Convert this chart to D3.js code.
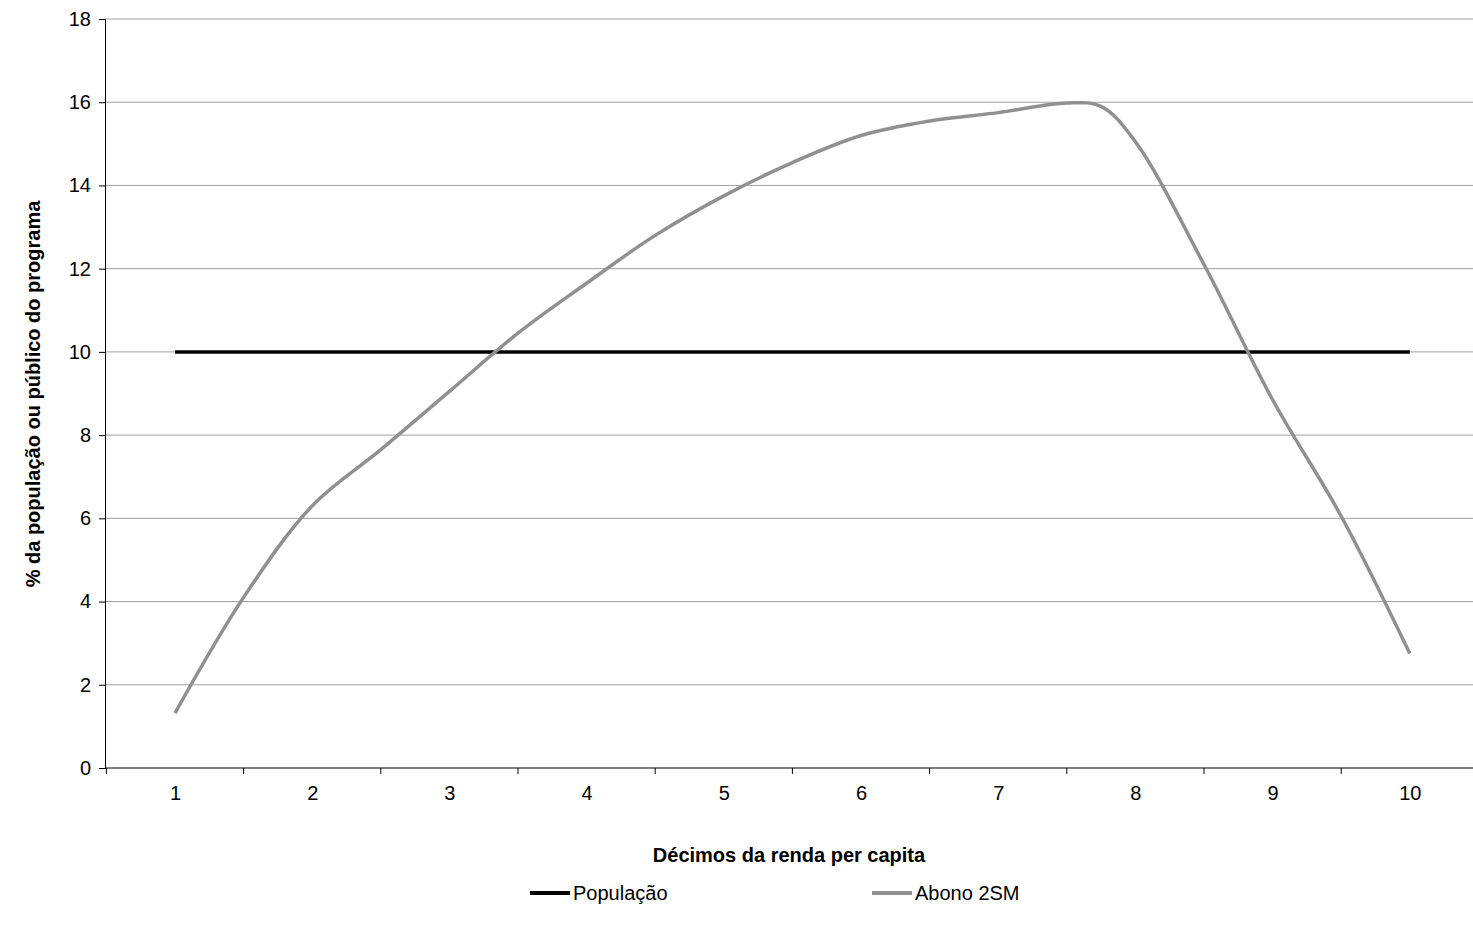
<!DOCTYPE html>
<html><head><meta charset="utf-8">
<script src="https://cdn.jsdelivr.net/npm/d3@7"></script>
<style>body{margin:0;background:#fff}text{font-family:Arial,"Liberation Sans",sans-serif}</style>
</head><body><svg id="c" width="1473" height="937"></svg>
<script>
const deciles = [1,2,3,4,5,6,7,8,9,10];
const yTicks = [0,2,4,6,8,10,12,14,16,18];
const populacao = [10,10,10,10,10,10,10,10,10,10];
// Abono 2SM read at half-decile steps
const abonoX = [1,1.5,2,2.5,3,3.5,4,4.5,5,5.5,6,6.5,7,7.5,7.75,8,8.5,9,9.5,10];
const abonoY = [1.32,4.1,6.3,7.65,9.05,10.45,11.65,12.8,13.75,14.55,15.2,15.55,15.75,15.98,15.9,15.05,12.1,8.85,6.05,2.75];

const svg = d3.select("#c");
const L=105,R=1473,T=19,B=768;
const step=137.2;
const x = d3.scaleLinear().domain([1,10]).range([175,175+9*step]);
const y = d3.scaleLinear().domain([0,18]).range([B,T]);

svg.append("g").selectAll("line").data(yTicks.slice(1)).join("line")
  .attr("x1",L).attr("x2",R).attr("y1",d=>y(d)).attr("y2",d=>y(d))
  .attr("stroke","#a0a0a0").attr("stroke-width",1);

const ya = svg.append("g").attr("transform",`translate(${L},0)`)
  .call(d3.axisLeft(y).tickValues(yTicks).tickSize(6).tickPadding(8));
const xa = svg.append("g").attr("transform",`translate(0,${B})`)
  .call(d3.axisBottom(x).tickValues(deciles).tickFormat(d3.format("d")).tickSize(0).tickPadding(18));
xa.selectAll(".domain").attr("d",`M${L},0H${R}`);
xa.append("g").selectAll("line").data(d3.range(11)).join("line")
  .attr("x1",i=>x(0.5+i)).attr("x2",i=>x(0.5+i)).attr("y1",0).attr("y2",6).attr("stroke","#000");
[ya,xa].forEach(a=>{a.selectAll("text").attr("font-size",20).attr("fill","#000");a.selectAll("path,line").attr("stroke","#000");});

svg.append("path").datum(deciles.map((d,i)=>[d,populacao[i]]))
  .attr("d",d3.line().x(d=>x(d[0])).y(d=>y(d[1])))
  .attr("fill","none").attr("stroke","#000").attr("stroke-width",3.5);
svg.append("path").datum(abonoX.map((d,i)=>[d,abonoY[i]]))
  .attr("d",d3.line().x(d=>x(d[0])).y(d=>y(d[1])).curve(d3.curveCatmullRom))
  .attr("fill","none").attr("stroke","#909090").attr("stroke-width",3.5);

svg.append("text").attr("x",789).attr("y",862).attr("text-anchor","middle")
  .attr("font-size",20).attr("font-weight","bold").text("Décimos da renda per capita");
svg.append("text").attr("transform","translate(40,394) rotate(-90)").attr("text-anchor","middle")
  .attr("font-size",20).attr("font-weight","bold").text("% da população ou público do programa");

const leg=[["População","#000",530],["Abono 2SM","#909090",872]];
leg.forEach(([t,c,lx])=>{
  svg.append("line").attr("x1",lx).attr("x2",lx+40).attr("y1",893).attr("y2",893).attr("stroke",c).attr("stroke-width",4);
  svg.append("text").attr("x",lx+43).attr("y",900).attr("font-size",20).text(t);
});
</script></body></html>
